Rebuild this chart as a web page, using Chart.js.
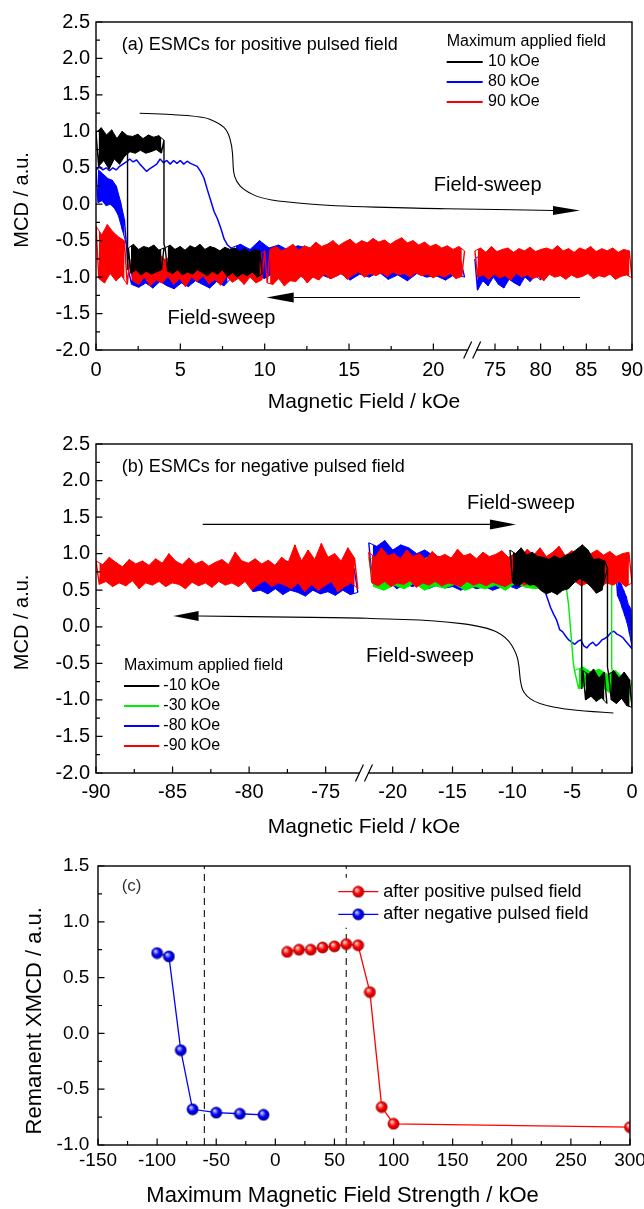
<!DOCTYPE html>
<html lang="en">
<head>
<meta charset="UTF-8">
<title>ESMCs after pulsed field</title>
<script src="https://cdn.jsdelivr.net/npm/chart.js@4.4.1/dist/chart.umd.min.js"></script>
<style>
  body { margin: 0; background: #fff; }
  #wrap { position: relative; width: 644px; height: 1209px; }
  #wrap canvas { position: absolute; left: 0; }
</style>
</head>
<body>
<div id="wrap">
  <canvas id="chartA" width="644" height="415" style="top:0px"></canvas>
  <canvas id="chartB" width="644" height="425" style="top:415px"></canvas>
  <canvas id="chartC" width="644" height="369" style="top:840px"></canvas>
</div>

<script>
const FONT = "'Liberation Sans', Arial, sans-serif";
Chart.defaults.font.family = FONT;
Chart.defaults.color = '#000';

// tick labels
const ticksA = [0, 5, 10, 15, 20, 75, 80, 85, 90];
const minorA = [2.5, 7.5, 12.5, 17.5, 77.5, 82.5, 87.5];
const ticksB = [-90, -85, -80, -75, -20, -15, -10, -5, 0];
const minorB = [-87.5, -82.5, -77.5, -17.5, -12.5, -7.5, -2.5];
const minorYAB = [-1.75, -1.25, -0.75, -0.25, 0.25, 0.75, 1.25, 1.75, 2.25];
const minorXC = [-125, -75, -25, 25, 75, 125, 175, 225, 275];
const minorYC = [-0.75, -0.25, 0.25, 0.75, 1.25];

// MCD traces: runs of [field start, field end, values read at even steps]; null = pen up
const a10kOe = [
  [0, 4.03, [0.98,0.52,1.05,0.6,0.95,0.48,1.02,0.62,0.9,0.55,1.0,0.66,0.94,0.72,0.93,0.7,0.96,0.74,0.9,0.7,0.95,0.72,0.92,0.75,0.94,0.7,0.88]],
  [4.03, 4.03, [-0.55]],
  [4.1, 9.85, [-0.6,-0.92,-0.56,-0.95,-0.62,-0.9,-0.58,-0.97,-0.63,-0.93,-0.57,-0.96,-0.6,-0.9,-0.55,-0.94,-0.62,-0.98,-0.58,-0.92,
               -0.6,-0.96,-0.64,-0.9,-0.59,-0.99,-0.62,-0.94,-0.6,-1.0,-0.65,-0.95,-0.61,-0.98,-0.66,-0.93,-0.62,-1.0,-0.64,-0.96]],
  null,
  [1.87, 1.87, [0.75, -0.9]],
  [1.92, 4.03, [-0.6,-0.95,-0.55,-0.9,-0.62,-0.97,-0.58,-0.92,-0.6,-0.96,-0.56,-0.93,-0.63,-0.9,-0.6]]
];
// 80 kOe: smooth up-sweep branch and the noisy parts
const a80kOeLine = [
  [0, 8.0, [0.48,0.52,0.47,0.5,0.46,0.5,0.47,0.52,0.55,0.58,0.62,0.58,0.61,0.55,0.5,0.45,0.49,0.52,0.55,0.62,
            0.57,0.6,0.55,0.6,0.56,0.6,0.55,0.59,0.56,0.54,0.52,0.45,0.36,0.2,0.05,-0.1,-0.2,-0.33,-0.48,-0.56,-0.6]]
];
const a80kOe = [
  [8.0, 21.85, [-0.6,-0.92,-0.55,-0.98,-0.62,-0.95,-0.5,-1.02,-0.6,-0.94,-0.56,-0.99,-0.63,-0.9,-0.57,-1.0,-0.6,-0.93,-0.65,-0.97,
                -0.59,-1.02,-0.66,-0.95,-0.62,-1.04,-0.68,-0.96,-0.63,-1.0,-0.7,-0.93,-0.64,-1.03,-0.69,-0.97,-0.66,-1.05,-0.7,-0.95,
                -0.67,-1.0,-0.72,-0.98,-0.68,-1.04,-0.7,-0.96,-0.73,-1.0]],
  null,
  [72.8, 80.0, [-0.75,-1.18,-0.7,-1.05,-0.78,-1.12,-0.72,-1.0,-0.8,-1.1,-0.74,-1.15,-0.7,-1.03,-0.77,-1.08,-0.72,-1.12,-0.76,-1.0,
                -0.73,-1.06,-0.7,-0.98,-0.75,-1.04]],
  null,
  [0, 1.8, [0.5,0.02,0.45,0.05,0.4,-0.02,0.35,0.0,0.33,-0.05,0.25,-0.15,0.05,-0.35,-0.2,-0.55]],
  [1.9, 8.0, [-0.88,-1.1,-0.85,-1.14,-0.9,-1.08,-0.86,-1.15,-0.92,-1.06,-0.87,-1.12,-0.9,-1.16,-0.85,-1.08,-0.9,-1.13,-0.88,-1.05,
              -0.86,-1.1,-0.9,-1.15,-0.87,-1.06,-0.84,-1.12,-0.88,-1.02]]
];
const a90kOe = [
  [0, 1.85, [-0.3,-1.02,-0.42,-1.08,-0.28,-0.95,-0.38,-1.05,-0.45,-0.98,-0.5,-1.1]],
  [2.0, 10.0, [-0.78,-1.05,-0.7,-1.1,-0.82,-1.0,-0.75,-1.12,-0.8,-1.04,-0.68,-1.08,-0.76,-0.99,-0.72,-1.1,-0.6,-1.02,-0.8,-1.13,
               -0.74,-1.0,-0.7,-1.06,-0.78,-0.98,-0.62,-1.09,-0.75,-1.03,-0.8,-1.11,-0.72,-0.99,-0.77,-1.07,-0.7,-1.02,-0.66,-1.1,
               -0.74,-1.0,-0.78,-1.08,-0.7,-1.04,-0.64]],
  [10.15, 21.85, [-1.08,-0.62,-1.1,-0.58,-1.02,-0.64,-1.12,-0.6,-1.05,-0.55,-1.06,-0.63,-0.98,-0.57,-1.08,-0.6,-1.0,-0.52,-1.04,-0.58,
                  -0.96,-0.55,-1.02,-0.5,-0.99,-0.57,-0.95,-0.52,-1.03,-0.48,-0.97,-0.55,-0.93,-0.5,-1.0,-0.53,-0.95,-0.47,-0.98,-0.52,
                  -0.94,-0.49,-0.99,-0.55,-0.93,-0.5,-0.97,-0.46,-0.95,-0.53,-1.0,-0.5,-0.94,-0.56,-0.98,-0.52,-0.96,-0.58,-1.01,-0.55,
                  -0.97,-0.6,-1.0,-0.57,-0.95,-0.62,-1.02,-0.58,-0.99,-0.64]],
  null,
  [72.8, 90, [-0.64,-1.0,-0.6,-0.97,-0.66,-1.03,-0.58,-0.96,-0.65,-1.01,-0.62,-0.98,-0.6,-1.04,-0.66,-0.95,-0.61,-1.0,-0.64,-0.97,
              -0.59,-1.02,-0.65,-0.99,-0.62,-1.05,-0.6,-0.96,-0.63,-1.0,-0.57,-0.98,-0.64,-1.03,-0.61,-0.97,-0.66,-1.01,-0.6,-0.99,
              -0.63,-0.95,-0.58,-1.02,-0.65,-0.98,-0.61,-1.0,-0.64,-0.96,-0.6,-1.03,-0.66,-0.99,-0.62,-0.97,-0.64,-1.01]]
];

const bM10kOe = [
  [-10.2, -2.05, [1.05,0.6,1.0,0.55,1.08,0.62,0.98,0.57,1.02,0.58,0.96,0.5,0.95,0.45,0.92,0.48,0.97,0.44,0.93,0.5,
                  0.98,0.52,1.0,0.6,1.06,0.66,1.12,0.62,1.05,0.55,0.92,0.46,0.93,0.5,0.9,0.8]],
  [-2.05, -2.05, [-0.55]],
  [-1.95, 0, [-0.65,-1.0,-0.6,-1.05,-0.7,-0.98,-0.62,-1.08,-0.72,-1.1]],
  null,
  [-4.2, -4.2, [0.75, -0.85]],
  [-4.1, -2.1, [-0.6,-1.0,-0.65,-0.95,-0.58,-1.02,-0.7,-0.97,-0.62,-1.05]]
];
const bM30kOe = [
  [-22.0, -5.5, [0.95,0.55,0.9,0.5,0.98,0.57,0.88,0.52,0.93,0.6,0.9,0.5,0.96,0.56,0.87,0.53,0.92,0.58,0.9,0.5,
                 0.95,0.55,0.88,0.52,0.93,0.57,0.9,0.5,0.96,0.6,0.89,0.54,0.94,0.52,0.9,0.56,0.92,0.5,0.88,0.55]],
  [-5.3, -4.9, [0.3, -0.5]],
  [-4.8, 0, [-0.6,-0.85,-0.55,-0.8,-0.62,-0.9,-0.58,-0.84,-0.65,-0.92,-0.6,-0.88,-0.7,-0.95,-0.75]],
  null,
  [-1.7, -1.7, [0.6, -0.55]],
  [-1.55, 0, [-0.7,-0.95,-0.75,-1.0,-0.8,-1.05]]
];
const bM80kOeLine = [
  [-7.3, 0, [0.5,0.38,0.26,0.17,0.09,-0.04,-0.07,-0.13,-0.18,-0.21,-0.24,-0.2,-0.18,-0.26,-0.29,-0.24,-0.21,-0.26,-0.23,-0.18,
             -0.16,-0.13,-0.08,-0.06,-0.1,-0.12,-0.15,-0.2,-0.25,-0.3]]
];
const bM80kOe = [
  [-80, -72.9, [0.82,0.48,0.88,0.5,0.78,0.45,0.85,0.52,0.8,0.44,0.9,0.5,0.83,0.47,0.78,0.42,0.86,0.5,0.8,0.45,
                0.88,0.48,0.82,0.43,0.79,0.5,0.85,0.44,0.8,0.47]],
  null,
  [-22.0, -7.3, [1.15,0.6,1.1,0.55,1.18,0.62,1.05,0.52,1.12,0.58,1.08,0.55,1.0,0.6,1.05,0.52,0.98,0.57,0.95,0.53,
                 0.9,0.55,0.95,0.5,0.9,0.56,0.88,0.52,0.92,0.55,0.9,0.5,0.87,0.54,0.93,0.56,0.88,0.52,0.9,0.58,
                 0.92,0.6,0.95,0.62,0.5]],
  null,
  [-1.3, 0, [0.65,0.42,0.62,0.35,0.58,0.25,0.5,0.15,0.42,0.05,0.3,-0.1,0.25,-0.28]]
];
const bM90kOe = [
  [-90, -72.9, [0.9,0.58,0.85,0.62,0.95,0.55,0.88,0.6,0.82,0.56,0.92,0.63,0.86,0.52,0.9,0.6,0.84,0.57,0.93,0.62,
                0.87,0.55,1.0,0.6,0.9,0.58,0.85,0.52,0.94,0.61,0.86,0.56,0.9,0.6,0.83,0.54,0.88,0.62,0.92,0.57,
                0.85,0.6,1.02,0.55,0.9,0.62,0.87,0.5,0.93,0.58,0.86,0.63,0.91,0.55,0.84,0.6,0.95,0.57,0.88,0.52,
                1.12,0.6,0.9,0.48,1.05,0.58,0.92,0.5,1.14,0.56,0.95,0.62,1.0,0.48,0.9,0.55,1.08,0.6,0.94,0.52]],
  null,
  [-22.0, 0, [1.02,0.6,0.95,0.56,1.08,0.62,0.97,0.55,1.0,0.6,0.93,0.58,1.05,0.63,0.96,0.54,1.0,0.6,0.92,0.57,
              1.03,0.62,0.95,0.56,0.99,0.6,0.94,0.58,1.06,0.55,0.97,0.62,1.0,0.57,0.93,0.6,1.02,0.56,0.96,0.61,
              0.99,0.58,1.04,0.55,0.95,0.6,1.0,0.62,0.97,0.57,1.06,0.6,0.98,0.55,1.08,0.62,0.96,0.58,1.02,0.6,
              1.1,0.57,0.97,0.6,1.04,0.62,0.99,0.56,1.07,0.6,1.0,0.58,1.05,0.55,0.98,0.6,1.03,0.57,0.96,0.62,
              1.0,0.55,1.02,0.6]]
];

// panel (c): remanent XMCD against maximum pulsed field
const posField = [10, 20, 30, 40, 50, 60, 70, 80, 90, 100, 300];
const posXmcd = [0.73, 0.75, 0.75, 0.77, 0.78, 0.8, 0.79, 0.37, -0.66, -0.81, -0.84];
const negField = [-100, -90, -80, -70, -50, -30, -10];
const negXmcd = [0.72, 0.69, -0.15, -0.68, -0.71, -0.72, -0.73];
const refLinesC = [-60, 60];

// broken field axis: left part l0..l1, right part r0..r1 (ratio = right px/unit over left px/unit)
function brokenAxis(l0, l1, r0, r1, ratio) {
  const toU = k => k <= l1 ? k - l0 : (l1 - l0) + (k - r0) * ratio;
  return { toU, max: toU(r1), brk: l1 - l0 };
}
const axA = brokenAxis(0, 22.3, 72.5, 90, 0.5415);
const axB = brokenAxis(-90, -72.5, -22.4, 0, 0.7815);

function runPoint(run, i, toU) {
  const [x0, x1, ys] = run;
  const k = ys.length > 1 ? x0 + (x1 - x0) * i / (ys.length - 1) : x0;
  return { x: toU(k), y: ys[i] };
}

function buildPoints(runs, toU) {
  const pts = [];
  runs.forEach(run => {
    if (run === null) { pts.push({ x: pts[pts.length - 1].x, y: null }); return; }
    run[2].forEach((y, i) => pts.push(runPoint(run, i, toU)));
  });
  return pts;
}

// a noisy run alternates high/low readings; its two envelopes are filled so the noise reads as a band
function trace(label, runs, ax, color, order, width) {
  const sets = [{ label, data: buildPoints(runs, ax.toU), borderColor: color, borderWidth: width || 1.4,
                  borderJoinStyle: 'bevel', pointRadius: 0, order, spanGaps: false, fill: false }];
  if (width) return sets;
  runs.forEach(run => {
    if (!run || run[2].length < 10) return;
    const hi = [], lo = [];
    run[2].forEach((y, i) => (i % 2 ? lo : hi).push(runPoint(run, i, ax.toU)));
    sets.push({ data: hi, borderColor: color, borderWidth: 1, pointRadius: 0, order, fill: false });
    sets.push({ data: lo, borderColor: color, borderWidth: 1, pointRadius: 0, order, fill: '-1', backgroundColor: color });
  });
  return sets;
}

function sphere(color, light, dark) {
  const c = document.createElement('canvas');
  c.width = 13; c.height = 13;
  const g = c.getContext('2d');
  const grad = g.createRadialGradient(4.6, 4.4, 0.4, 6.5, 6.5, 6.2);
  grad.addColorStop(0, light);
  grad.addColorStop(0.5, color);
  grad.addColorStop(1, dark);
  g.fillStyle = grad;
  g.beginPath(); g.arc(6.5, 6.5, 5.5, 0, Math.PI * 2); g.fill();
  g.strokeStyle = dark; g.lineWidth = 0.8; g.stroke();
  return c;
}

// frame, inward ticks, axis break, arrows, notes and legend
function deco(o) {
  return {
    id: 'deco',
    afterDatasetsDraw(chart) {
      const { ctx, chartArea: a, scales: { x, y } } = chart;
      const P = (k, m) => [x.getPixelForValue(o.toU(k)), y.getPixelForValue(m)];
      ctx.save();
      ctx.strokeStyle = '#000'; ctx.fillStyle = '#000'; ctx.lineWidth = 1.1;
      (o.arrows || []).forEach(ar => {
        const p = ar.pts.map(q => P(q[0], q[1]));
        const tip = p[p.length - 1], base = p[p.length - 2];
        ctx.beginPath();
        ctx.moveTo(p[0][0], p[0][1]);
        for (let i = 1; i < p.length - 2; i++) {
          ctx.quadraticCurveTo(p[i][0], p[i][1], (p[i][0] + p[i + 1][0]) / 2, (p[i][1] + p[i + 1][1]) / 2);
        }
        ctx.lineTo(base[0], base[1]);
        ctx.stroke();
        const dx = tip[0] - base[0], dy = tip[1] - base[1], len = Math.hypot(dx, dy);
        const nx = -dy / len * ar.half, ny = dx / len * ar.half;
        ctx.beginPath();
        ctx.moveTo(tip[0], tip[1]);
        ctx.lineTo(base[0] + nx, base[1] + ny);
        ctx.lineTo(base[0] - nx, base[1] - ny);
        ctx.closePath(); ctx.fill();
      });
      ctx.textBaseline = 'middle';
      (o.texts || []).forEach(t => {
        ctx.font = t.size + 'px ' + FONT; ctx.textAlign = 'center';
        const [px, py] = P(t.k, t.m);
        ctx.fillText(t.text, px, py);
      });
      (o.notes || []).forEach(n => {
        ctx.font = n.size + 'px ' + FONT; ctx.textAlign = 'left'; ctx.fillStyle = n.color || '#000';
        ctx.fillText(n.text, a.left + n.dx, a.top + n.dy);
      });
      const L = o.legend;
      if (L) {
        const lx = a.left + L.dx, ly = a.top + L.dy;
        if (L.bg) { ctx.fillStyle = '#fff'; ctx.fillRect(lx + L.bg[0], ly + L.bg[1], L.bg[2], L.bg[3]); }
        ctx.font = L.size + 'px ' + FONT; ctx.textAlign = 'left';
        let row = 0;
        if (L.title) { ctx.fillStyle = '#000'; ctx.fillText(L.title, lx, ly); row = 1; }
        chart.data.datasets.forEach(ds => {
          if (!ds.label) return;
          const yy = ly + row * L.gap;
          ctx.strokeStyle = ds.borderColor; ctx.lineWidth = L.lw;
          ctx.beginPath(); ctx.moveTo(lx, yy); ctx.lineTo(lx + L.len, yy); ctx.stroke();
          if (ds.pointStyle instanceof HTMLCanvasElement) {
            ctx.drawImage(ds.pointStyle, lx + L.len / 2 - 6.5, yy - 6.5);
          }
          ctx.fillStyle = '#000';
          ctx.fillText(ds.label, lx + L.len + L.textGap, yy);
          row++;
        });
      }
      ctx.restore();
    },
    afterDraw(chart) {
      const { ctx, chartArea: a, scales: { x, y } } = chart;
      ctx.save();
      ctx.strokeStyle = '#000'; ctx.lineWidth = 1.4;
      ctx.strokeRect(a.left, a.top, a.right - a.left, a.bottom - a.top);
      ctx.lineWidth = 1.2;
      ctx.beginPath();
      x.ticks.forEach(t => { const px = x.getPixelForValue(t.value); ctx.moveTo(px, a.bottom); ctx.lineTo(px, a.bottom - 6.5); });
      o.xMinor.forEach(v => { const px = x.getPixelForValue(o.toU(v)); ctx.moveTo(px, a.bottom); ctx.lineTo(px, a.bottom - 4); });
      y.ticks.forEach(t => { const py = y.getPixelForValue(t.value); ctx.moveTo(a.left, py); ctx.lineTo(a.left + 6.5, py); });
      o.yMinor.forEach(v => { const py = y.getPixelForValue(v); ctx.moveTo(a.left, py); ctx.lineTo(a.left + 4, py); });
      ctx.stroke();
      if (o.brk != null) {
        const bx = x.getPixelForValue(o.brk), by = a.bottom;
        ctx.fillStyle = '#fff'; ctx.fillRect(bx - 4, by - 2, 8, 4);
        ctx.beginPath();
        ctx.moveTo(bx - 8.5, by + 8.5); ctx.lineTo(bx - 0.5, by - 8.5);
        ctx.moveTo(bx + 0.5, by + 8.5); ctx.lineTo(bx + 8.5, by - 8.5);
        ctx.stroke();
      }
      ctx.restore();
    }
  };
}

function makeChart(id, datasets, o) {
  return new Chart(document.getElementById(id), {
    type: 'line',
    data: { datasets },
    options: {
      responsive: false, animation: false, events: [],
      layout: { padding: o.padding },
      plugins: { legend: { display: false }, tooltip: { enabled: false } },
      elements: { line: { tension: 0 } },
      scales: {
        x: {
          type: 'linear', min: o.xMin, max: o.xMax,
          grid: { display: false, drawTicks: false }, border: { display: false },
          afterBuildTicks: s => { if (o.xTicks) s.ticks = o.xTicks.map(v => ({ value: o.toU(v) })); },
          ticks: {
            autoSkip: false, maxRotation: 0, padding: o.xPad, stepSize: o.xStep,
            font: { size: o.tickSize },
            callback: (v, i) => o.xTicks ? String(o.xTicks[i]) : String(v)
          },
          afterFit: s => { s.height = o.xH; s.paddingLeft = 0; s.paddingRight = 0; },
          title: { display: true, text: o.xTitle, font: { size: o.xTitleSize }, padding: 0 }
        },
        y: {
          min: o.yMin, max: o.yMax,
          grid: { display: false, drawTicks: false }, border: { display: false },
          ticks: {
            stepSize: 0.5, padding: o.yPad, font: { size: o.tickSize },
            callback: v => (Math.abs(v) < 1e-9 ? 0 : v).toFixed(1)
          },
          afterFit: s => { s.width = o.yW; s.paddingTop = 0; s.paddingBottom = 0; },
          title: { display: true, text: o.yTitle, font: { size: o.yTitleSize }, padding: { top: o.yTitlePad, bottom: 0 } }
        }
      }
    },
    plugins: [deco(o)]
  });
}

const NB = '\u00a0';

// (a) positive pulsed field
makeChart('chartA', [
  ...trace('10 kOe', a10kOe, axA, '#000000', 0),
  ...trace('80 kOe', a80kOe, axA, '#0000ff', 2),
  ...trace('90 kOe', a90kOe, axA, '#ff0000', 1),
  ...trace('', a80kOeLine, axA, '#0000ff', 3, 1.5)
], {
  toU: axA.toU, xMin: 0, xMax: axA.max, xTicks: ticksA, xMinor: minorA, yMinor: minorYAB, brk: axA.brk,
  yMin: -2, yMax: 2.5, padding: { top: 22, right: 12, left: 0, bottom: 0 },
  xH: 65, yW: 96, xPad: 8, yPad: 6, tickSize: 20,
  xTitle: 'Magnetic Field / kOe', xTitleSize: 21,
  yTitle: 'MCD / a.u.' + NB.repeat(5), yTitleSize: 20, yTitlePad: 10,
  notes: [{ text: '(a) ESMCs for positive pulsed field', dx: 25.7, dy: 23, size: 18 }],
  legend: { title: 'Maximum applied field', dx: 350.7, dy: 20, gap: 20, len: 36, textGap: 5.3, size: 16, lw: 2 },
  texts: [
    { text: 'Field-sweep', k: 74.2, m: 0.255, size: 20 },
    { text: 'Field-sweep', k: 7.44, m: -1.565, size: 20 }
  ],
  arrows: [
    { half: 4.5, pts: [[2.59, 1.248], [6.15, 1.224], [7.33, 1.11], [7.81, 1.005], [8.06, 0.8], [8.12, 0.607], [8.14, 0.442],
                       [8.32, 0.309], [8.76, 0.195], [9.75, 0.082], [11.09, 0.035], [13.86, -0.024], [19.19, -0.056],
                       [72.5, -0.067], [81.35, -0.086], [84.3, -0.086]] },
    { half: 5, pts: [[84.3, -1.28], [11.72, -1.28], [10.1, -1.28]] }
  ]
});

// (b) negative pulsed field
makeChart('chartB', [
  ...trace('-10 kOe', bM10kOe, axB, '#000000', 0),
  ...trace('-30 kOe', bM30kOe, axB, '#00ee00', 2),
  ...trace('-80 kOe', bM80kOe, axB, '#0000ff', 3),
  ...trace('-90 kOe', bM90kOe, axB, '#ff0000', 1),
  ...trace('', bM80kOeLine, axB, '#0000ff', 4, 1.5)
], {
  toU: axB.toU, xMin: 0, xMax: axB.max, xTicks: ticksB, xMinor: minorB, yMinor: minorYAB, brk: axB.brk,
  yMin: -2, yMax: 2.5, padding: { top: 29, right: 12, left: 0, bottom: 0 },
  xH: 67, yW: 96, xPad: 7, yPad: 6, tickSize: 20,
  xTitle: 'Magnetic Field / kOe', xTitleSize: 21,
  yTitle: 'MCD / a.u.' + NB.repeat(5), yTitleSize: 20, yTitlePad: 10,
  notes: [{ text: '(b) ESMCs for negative pulsed field', dx: 25.7, dy: 23.3, size: 18 }],
  legend: { title: 'Maximum applied field', dx: 28, dy: 222, gap: 20, len: 35.3, textGap: 4, size: 16, lw: 2 },
  texts: [
    { text: 'Field-sweep', k: -9.28, m: 1.69, size: 20 },
    { text: 'Field-sweep', k: -17.72, m: -0.404, size: 20 }
  ],
  arrows: [
    { half: 5, pts: [[-83.03, 1.4], [-11.87, 1.4], [-9.7, 1.4]] },
    { half: 5, pts: [[-1.56, -1.18], [-5.18, -1.144], [-7.96, -1.052], [-9.08, -0.915], [-9.36, -0.73], [-9.42, -0.55],
                     [-9.64, -0.367], [-10.47, -0.14], [-12.14, -0.003], [-16.32, 0.089], [-21.9, 0.112], [-72.5, 0.12],
                     [-76.68, 0.13], [-83.3, 0.148], [-84.95, 0.148]] }
  ]
});

// (c) remanent XMCD
const ident = v => v;
const redBall = sphere('#ff0000', '#ffd8d8', '#a80000');
const blueBall = sphere('#0000ff', '#d0d0ff', '#000090');
makeChart('chartC', [
  { label: 'after positive pulsed field', data: posField.map((f, i) => ({ x: f, y: posXmcd[i] })),
    borderColor: '#ff0000', borderWidth: 1.3, pointStyle: redBall, pointRadius: 6, order: 0 },
  { label: 'after negative pulsed field', data: negField.map((f, i) => ({ x: f, y: negXmcd[i] })),
    borderColor: '#0000ff', borderWidth: 1.3, pointStyle: blueBall, pointRadius: 6, order: 1 },
  ...refLinesC.map(f => ({ data: [{ x: f, y: -1 }, { x: f, y: 1.5 }], borderColor: '#222', borderWidth: 1.2,
                            borderDash: [7, 5], pointRadius: 0, order: 5 }))
], {
  toU: ident, xMin: -150, xMax: 300, xStep: 50, xMinor: minorXC, yMinor: minorYC,
  yMin: -1, yMax: 1.5, padding: { top: 26, right: 14, left: 0, bottom: 0 },
  xH: 64, yW: 98, xPad: 4, yPad: 8.7, tickSize: 19,
  xTitle: 'Maximum Magnetic Field Strength / kOe' + NB.repeat(7), xTitleSize: 22,
  yTitle: 'Remanent XMCD / a.u.' + NB.repeat(5), yTitleSize: 22, yTitlePad: 22,
  notes: [{ text: '(c)', dx: 23.7, dy: 20, size: 17, color: '#333' }],
  legend: { dx: 240.3, dy: 25.7, gap: 22.6, len: 40, textGap: 5, size: 18, lw: 1.3, bg: [-5, -14, 250, 50] }
});
</script>
</body>
</html>
